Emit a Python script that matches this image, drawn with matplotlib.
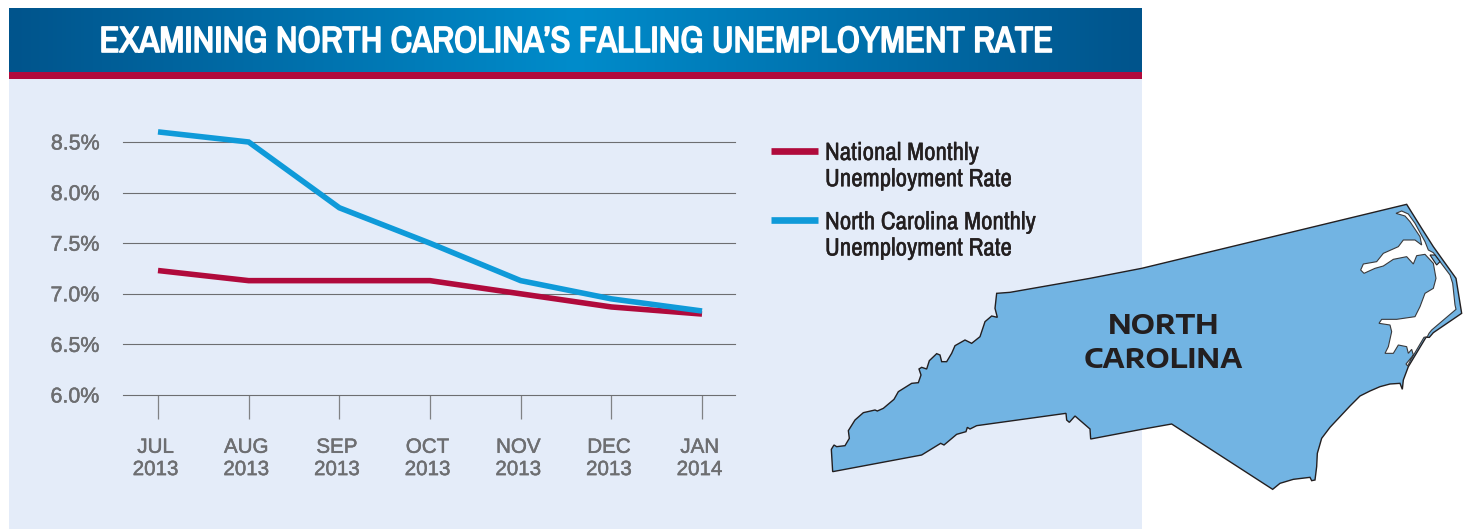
import numpy as np
import matplotlib
matplotlib.use('Agg')
import matplotlib.pyplot as plt
import matplotlib.patheffects as pe
from matplotlib.lines import Line2D
from matplotlib.patches import Polygon, Rectangle
from matplotlib.colors import LinearSegmentedColormap
from matplotlib.legend_handler import HandlerLine2D
from matplotlib.transforms import ScaledTranslation

months = ['JUL\n2013', 'AUG\n2013', 'SEP\n2013', 'OCT\n2013', 'NOV\n2013', 'DEC\n2013', 'JAN\n2014']
national = [7.23, 7.13, 7.13, 7.13, 7.00, 6.87, 6.80]
north_carolina = [8.60, 8.50, 7.85, 7.50, 7.13, 6.95, 6.83]
y_ticks = [6.0, 6.5, 7.0, 7.5, 8.0, 8.5]

# State outline, traced clockwise from the south west corner (pixels)
west_part = [(38,845),(34,778),(42,765),(50,770),(75,767),(88,745),(85,722),(105,690),(130,668),
             (165,660),(172,663),(190,655),(222,628),(235,605),(275,580),(295,578),(303,555),
             (297,537),(305,532),(320,537),(328,512),(350,491),(360,495),(365,515),(380,515),
             (395,490),(405,467),(435,450),(455,460),(480,440),(495,395),(515,378),(532,382),
             (525,355),(530,310),(570,307),(810,265)]
east_part = [(5,235),(800,43),(845,115),(880,170),(905,205),(948,265),(965,370),(880,428),(868,442),(858,442),
             (805,530),(790,570),(787,598),(780,580),(750,582),(720,590),(690,603),(660,618),(630,648),
             (600,680),(570,712),(545,745),(532,790),(530,830),(525,870),(515,872),(510,862),(460,868),
             (420,880),(398,898),(95,702),(5,718)]
west_south = [(812,747),(810,717),(765,678),(748,697),(740,690),(738,670),(470,707),(450,717),
              (442,712),(438,725),(410,733),(372,765),(362,760),(305,795)]
sounds = [(768,70),(785,63),(805,72),(825,100),(855,155),(865,180),(880,188),(900,215),(930,255),
          (938,280),(945,345),(948,358),(875,420),(867,430),(862,440),(852,442),(812,510),(803,528),
          (798,522),(820,495),(815,478),(805,490),(800,470),(775,465),(760,490),(735,490),(745,470),
          (755,425),(750,405),(717,400),(725,388),(770,388),(825,380),(840,350),(855,310),(880,295),
          (888,265),(880,220),(855,193),(830,197),(820,222),(800,200),(760,208),(730,228),(705,235),
          (672,250),(662,240),(670,222),(710,215),(730,190),(775,170),(790,150),(825,150),(845,165),
          (840,140),(810,95),(795,78)]
roanoke = [(870,195),(885,195),(900,215),(890,225)]

def west_px(pts):
    return [(820 + x / 3, 190 + y / 3) for x, y in pts]

def east_px(pts):
    return [(1140 + x / 3, 190 + y / 3) for x, y in pts]

# Legend keys line up with the first row of their two line labels
class FirstRowHandler(HandlerLine2D):
    def create_artists(self, legend, orig_handle, xdescent, ydescent, width, height, fontsize, trans):
        artists = super().create_artists(legend, orig_handle, xdescent, ydescent, width, height, fontsize, trans)
        for artist in artists:
            artist.set_ydata(np.asarray(artist.get_ydata()) + 10.9)
            artist.set_linewidth(4.8)
        return artists

plt.rcParams['font.family'] = ['Liberation Sans', 'DejaVu Sans']

W, H = 1467, 529
fig = plt.figure(figsize=(W / 100, H / 100), dpi=100, facecolor='white')

# Background layer works in pixel coordinates
bg = fig.add_axes([0, 0, 1, 1], zorder=0)
bg.axis('off')

bg.add_patch(Rectangle((9, 79), 1133, 450, color='#e4ecf9', lw=0))
bg.add_patch(Rectangle((9, 72), 1133, 7, color='#b00a3c', lw=0))

header_cmap = LinearSegmentedColormap.from_list('header', ['#00548c', '#008ccb', '#00548c'])
bg.imshow(np.linspace(0, 1, 512).reshape(1, -1), cmap=header_cmap, aspect='auto',
          extent=(9, 1142, 72, 8), zorder=1)
bg.set_xlim(0, W)
bg.set_ylim(H, 0)

title = bg.text(575.5, 41.5, 'EXAMINING NORTH CAROLINA\u2019S FALLING UNEMPLOYMENT RATE', color='white',
                family='Archivo Narrow', fontsize=26.3, ha='center', va='center', zorder=2)
title.set_path_effects([pe.withStroke(linewidth=1.2, foreground='white')])

# Map of the state
outline = west_px(west_part) + east_px(east_part) + west_px(west_south)
bg.add_patch(Polygon(outline, closed=True, facecolor='#72b4e3', edgecolor='#231f20', lw=1.0, zorder=2))
bg.add_patch(Polygon(east_px(sounds), closed=True, facecolor='white', edgecolor='#3a3a3c', lw=0.8, zorder=3))
bg.add_patch(Polygon(east_px(roanoke), closed=True, facecolor='#72b4e3', edgecolor='#231f20', lw=0.8, zorder=4))
bg.text(1163.5, 325.5, 'NORTH', color='#231f20', family='Encode Sans Expanded', fontweight='bold', fontsize=19.5,
        ha='center', va='center', zorder=5)
bg.text(1163.5, 360.5, 'CAROLINA', color='#231f20', family='Encode Sans Expanded', fontweight='bold', fontsize=19.5,
        ha='center', va='center', zorder=5)

# Line chart
ax = fig.add_axes([123 / W, 1 - 395 / H, 612 / W, 253 / H], zorder=1)
ax.patch.set_alpha(0)
x = np.arange(len(months))
ax.plot(x, national, color='#b00a3c', lw=4.0, solid_joinstyle='miter', solid_capstyle='butt',
        clip_on=False, zorder=3, label='National Monthly\nUnemployment Rate')
ax.plot(x, north_carolina, color='#0f9ad9', lw=4.0, solid_joinstyle='miter', solid_capstyle='butt',
        clip_on=False, zorder=4, label='North Carolina Monthly\nUnemployment Rate')

ax.set_xlim((123 - 158) / 90.67, (735 - 158) / 90.67)
ax.set_ylim(6.0, 8.5)
for side in ax.spines:
    ax.spines[side].set_visible(False)

ax.set_yticks(y_ticks)
ax.set_yticklabels([f'{v:.1f}%' for v in y_ticks])
ax.grid(axis='y', color='#6d6e71', lw=0.8, clip_on=False)
ax.set_axisbelow(True)
ax.set_xticks(x)
ax.set_xticklabels(months, linespacing=1.22)
ax.tick_params(axis='y', length=0, pad=17, labelsize=15.4, labelcolor='#6d6e71')
ax.tick_params(axis='x', length=17.3, width=0.9, color='#808285', pad=13.5, labelsize=14.8, labelcolor='#6d6e71')

# Month labels sit slightly left of their ticks, all tick text a touch heavier
shift = ScaledTranslation(-2.5 / 100, 0, fig.dpi_scale_trans)
for lab in ax.get_xticklabels():
    lab.set_transform(lab.get_transform() + shift)
for lab in ax.get_xticklabels() + ax.get_yticklabels():
    lab.set_path_effects([pe.withStroke(linewidth=0.35, foreground='#6d6e71')])

leg = ax.legend(loc='upper left', bbox_to_anchor=(771 / W, 1 - 141 / H), bbox_transform=fig.transFigure,
                frameon=False, handlelength=1.88, handletextpad=0.28, labelspacing=0.8, borderpad=0, borderaxespad=0,
                prop={'family': 'Archivo Narrow', 'size': 18}, labelcolor='#231f20',
                handler_map={Line2D: FirstRowHandler()})
for t in leg.get_texts():
    t.set_linespacing(1.17)
    t.set_path_effects([pe.withStroke(linewidth=0.3, foreground='#231f20')])

fig.savefig('out.png', dpi=100)
